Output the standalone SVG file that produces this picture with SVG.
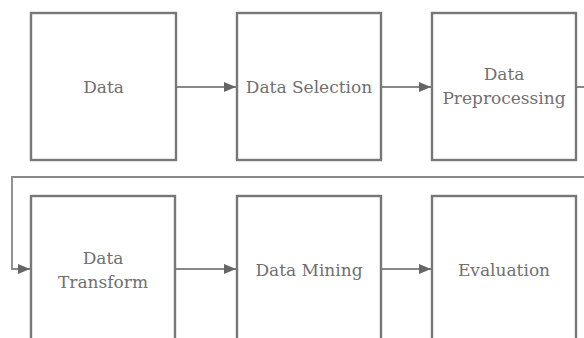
<svg xmlns="http://www.w3.org/2000/svg" width="584" height="338" viewBox="0 0 584 338">
<defs>
<style>
.box{fill:#fff;stroke:#777;stroke-width:2.4}
.lbl{font-family:"DejaVu Serif","Liberation Serif",serif;font-size:17px;fill:#707070;text-anchor:middle}
.con{fill:none;stroke:#888;stroke-width:1.8}
</style>
<marker id="ah" viewBox="0 0 12 10" refX="12" refY="5" markerWidth="12" markerHeight="10" markerUnits="userSpaceOnUse" orient="auto">
<path d="M0,0 L12,5 L0,10 Z" fill="#666"/>
</marker>
</defs>
<rect width="584" height="338" fill="#fff"/>
<g id="connectors">
<path class="con" d="M176,87 H236" marker-end="url(#ah)"/>
<path class="con" d="M381,87 H431" marker-end="url(#ah)"/>
<path class="con" d="M576,87 H592 V177 H12 V269 H30" marker-end="url(#ah)"/>
<path class="con" d="M175,269 H236" marker-end="url(#ah)"/>
<path class="con" d="M381,269 H431" marker-end="url(#ah)"/>
</g>
<g id="n1"><rect class="box" x="31" y="13" width="145" height="147"/><text class="lbl" x="103.5" y="92.5">Data</text></g>
<g id="n2"><rect class="box" x="237" y="13" width="144" height="147"/><text class="lbl" x="309" y="92.5">Data Selection</text></g>
<g id="n3"><rect class="box" x="432" y="13" width="144" height="147"/><text class="lbl" x="504" y="80">Data</text><text class="lbl" x="504" y="104">Preprocessing</text></g>
<g id="n4"><rect class="box" x="31" y="196" width="144" height="150"/><text class="lbl" x="103" y="264">Data</text><text class="lbl" x="103" y="288">Transform</text></g>
<g id="n5"><rect class="box" x="237" y="196" width="144" height="150"/><text class="lbl" x="309" y="276">Data Mining</text></g>
<g id="n6"><rect class="box" x="432" y="196" width="144" height="150"/><text class="lbl" x="504" y="276">Evaluation</text></g>
</svg>
